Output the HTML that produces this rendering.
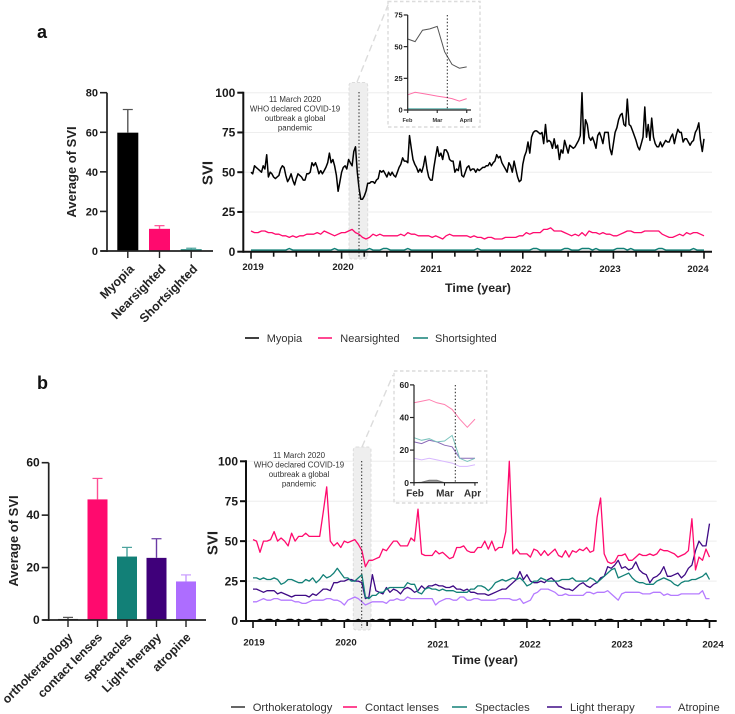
<!DOCTYPE html>
<html lang="en">
<head>
<meta charset="utf-8">
<title>SVI trends</title>
<style>
html,body{margin:0;padding:0;background:#fff;}
#figure{position:absolute;left:0;top:0;display:block;font-family:"Liberation Sans",sans-serif;filter:blur(0.35px);}
.tick{font-weight:700;font-size:12px;fill:#1a1a1a;}
.cat{font-weight:700;fill:#222;}
.year{font-weight:700;font-size:9.6px;fill:#222;text-anchor:middle;}
.title{font-weight:700;fill:#222;text-anchor:middle;}
.note{font-size:7.9px;fill:#333;text-anchor:middle;}
.leg{font-size:11px;fill:#333;}
.legb{font-size:11.2px;fill:#333;}
.inl{font-weight:700;font-size:6px;fill:#333;}
</style>
</head>
<body>
<svg id="figure" xmlns="http://www.w3.org/2000/svg" width="735" height="714" viewBox="0 0 735 714">
  <rect width="735" height="714" fill="#fff"/>
  <text x="37" y="38" font-size="18" font-weight="700" fill="#111">a</text>
  <text x="37" y="389" font-size="18" font-weight="700" fill="#111">b</text>

  <g id="layerA"></g>
  <g id="layerB"></g>

  <!-- panel a labels -->
  <text class="title" font-size="13" transform="translate(76,172) rotate(-90)">Average of SVI</text>
  <text class="title" font-size="15" transform="translate(212.5,173) rotate(-90)">SVI</text>
  <text class="title" font-size="12.4" x="478" y="292">Time (year)</text>
  <text class="year" x="253" y="270">2019</text>
  <text class="year" x="343" y="270">2020</text>
  <text class="year" x="431" y="272">2021</text>
  <text class="year" x="521" y="272">2022</text>
  <text class="year" x="610" y="272">2023</text>
  <text class="year" x="698" y="272">2024</text>
  <g>
    <text class="note" x="295" y="102">11 March 2020</text>
    <text class="note" x="295" y="111.5">WHO declared COVID-19</text>
    <text class="note" x="295" y="121">outbreak a global</text>
    <text class="note" x="295" y="130.5">pandemic</text>
  </g>
  <g>
    <line x1="245" x2="259" y1="338" y2="338" stroke="#000" stroke-width="1.5"/>
    <text class="leg" x="266.7" y="342">Myopia</text>
    <line x1="318" x2="332" y1="338" y2="338" stroke="#ff0a6e" stroke-width="1.5"/>
    <text class="leg" x="340.3" y="342">Nearsighted</text>
    <line x1="413" x2="428" y1="338" y2="338" stroke="#128077" stroke-width="1.5"/>
    <text class="leg" x="435" y="342">Shortsighted</text>
  </g>

  <!-- panel b labels -->
  <text class="title" font-size="13" transform="translate(18,541) rotate(-90)">Average of SVI</text>
  <text class="title" font-size="15" transform="translate(217.5,543) rotate(-90)">SVI</text>
  <text class="title" font-size="12.4" x="485" y="664">Time (year)</text>
  <text class="year" x="254" y="645.5">2019</text>
  <text class="year" x="346" y="645.5">2020</text>
  <text class="year" x="438" y="647.5">2021</text>
  <text class="year" x="530" y="647.5">2022</text>
  <text class="year" x="622" y="647.5">2023</text>
  <text class="year" x="713" y="647.5">2024</text>
  <g>
    <text class="note" x="299" y="458">11 March 2020</text>
    <text class="note" x="299" y="467.5">WHO declared COVID-19</text>
    <text class="note" x="299" y="477">outbreak a global</text>
    <text class="note" x="299" y="486.5">pandemic</text>
  </g>
  <g>
    <line x1="231" x2="245" y1="707" y2="707" stroke="#333" stroke-width="1.5"/>
    <text class="legb" x="252.7" y="711">Orthokeratology</text>
    <line x1="343" x2="357" y1="707" y2="707" stroke="#ff0a6e" stroke-width="1.5"/>
    <text class="legb" x="365" y="711">Contact lenses</text>
    <line x1="452" x2="467" y1="707" y2="707" stroke="#128077" stroke-width="1.5"/>
    <text class="legb" x="475" y="711">Spectacles</text>
    <line x1="547" x2="562" y1="707" y2="707" stroke="#3f0a85" stroke-width="1.5"/>
    <text class="legb" x="570" y="711">Light therapy</text>
    <line x1="656" x2="671" y1="707" y2="707" stroke="#b57bff" stroke-width="1.5"/>
    <text class="legb" x="678" y="711">Atropine</text>
  </g>
</svg>

<script>
// ---------- Data: panel a ----------
const barCategoriesA = ['Myopia','Nearsighted','Shortsighted'];
const barValuesA = [59.8,11.2,0.9];
const barErrorsA = [71.5,12.8,1.4];
const barTicksA = [0,20,40,60,80];
const lineTicks = [0,25,50,75,100];

const myopia = [
50,49,54,53,52,51,50,54,52,61,47,50,49,47,46,47,48,52,54,53,48,44,46,49,45,42,
46,49,48,47,45,45,49,49,50,56,54,56,53,49,51,49,51,53,56,62,56,58,54,48,38,44,
50,53,54,52,58,56,54,63,66,50,40,33,33,35,38,43,43,44,44,43,45,46,51,50,51,49,
47,50,48,50,48,47,50,53,55,59,57,57,56,73,65,58,55,53,50,52,50,54,60,52,47,45,
45,53,60,66,60,62,58,64,64,62,58,57,57,50,52,51,57,48,47,50,53,54,51,52,52,50,
52,51,52,53,53,54,54,56,54,56,57,61,59,60,56,54,52,50,56,54,50,57,52,47,44,45,
55,60,63,69,62,72,75,76,76,75,74,75,68,80,69,70,69,65,71,65,67,58,64,62,70,66,
62,67,66,65,66,68,70,73,100,68,83,80,72,70,72,69,65,73,75,72,68,75,75,75,65,61,
68,75,78,83,86,87,80,79,96,80,79,76,73,70,66,64,68,72,91,72,80,70,84,72,68,66,
66,69,66,68,70,69,69,72,74,68,73,77,75,75,69,71,71,69,67,69,70,75,77,81,70,63,71
];
const nearsighted = [
13,12,12,13,13,12,12,11,11,10,10,9,10,9,10,10,11,11,11,12,11,13,12,11,10,11,
12,12,13,14,12,11,9,8,9,11,10,11,10,10,10,10,10,11,10,12,11,11,10,10,10,10,
9,10,9,8,10,11,10,10,10,10,10,9,10,9,9,8,9,9,8,8,8,9,9,9,9,10,
10,12,11,12,12,12,14,14,15,13,13,13,12,11,10,11,10,12,10,13,12,12,11,12,11,11,
10,10,11,12,13,13,12,12,12,13,13,13,13,13,11,10,9,9,10,11,10,12,11,12,12,11,
10
];
const shortsighted = [
1,1,1,1,1,1,1,1,1,1,1,2,1,1,1,1,1,1,1,1,1,1,1,1,2,1,
1,1,1,1,1,1,1,1,2,1,1,1,2,2,1,1,1,1,1,2,1,1,1,1,1,1,
1,1,1,1,1,1,1,1,1,1,1,1,1,2,1,1,1,1,1,1,1,1,1,1,1,1,
1,1,1,2,2,1,1,1,1,1,1,1,2,2,1,1,1,2,2,2,1,2,1,1,1,1,
1,2,2,2,1,2,1,1,1,1,1,1,1,2,2,1,1,1,1,1,1,1,1,2,1,1,
1
];
const insetMyopia = [56,54,63,64,66,46,36,33,34];
const insetNearsighted = [12,14,13,12,11,10,9,7,9];
const insetShortsighted = [1,1,1,1,1,1,1,1,1];
const insetTicksA = [0,25,50,75];

// ---------- Data: panel b ----------
const barCategoriesB = ['orthokeratology','contact lenses','spectacles','Light therapy','atropine'];
const barValuesB = [0.4,46,24.2,23.7,14.7];
const barErrorsB = [1,54,27.7,31,17.2];
const barTicksB = [0,20,40,60];

const contactLenses = [
51,50,43,50,50,51,56,50,52,50,47,55,50,53,53,55,53,53,53,53,68,84,50,47,49,46,
50,49,50,51,48,44,34,38,38,39,40,45,44,47,50,50,47,47,47,52,50,70,42,41,41,41,
44,42,43,41,39,40,46,46,47,44,43,43,46,46,50,45,50,44,46,46,56,100,42,45,42,42,
42,40,45,44,41,44,41,43,45,41,40,44,40,44,43,45,44,46,43,44,65,77,42,37,36,37,
41,41,42,38,38,40,42,41,41,42,41,42,45,44,44,43,42,40,41,42,44,64,32,40,38,45,
40
];
const spectacles = [
27,27,26,27,26,26,27,26,23,24,26,26,25,24,24,26,25,27,24,26,29,27,28,30,33,30,
27,27,25,25,27,29,15,14,16,16,18,18,20,21,21,21,21,21,24,23,23,18,17,20,21,20,
20,19,20,19,19,19,18,18,18,18,20,20,22,22,21,19,21,24,25,26,25,26,27,26,27,25,
22,23,25,25,27,26,25,25,25,25,26,26,26,27,25,25,25,25,27,26,24,26,28,30,32,33,
27,28,29,30,27,25,24,24,23,23,23,25,26,27,26,25,23,22,24,25,25,26,26,27,28,30,
26
];
const lightTherapy = [
20,20,19,18,19,19,19,17,18,17,16,15,16,16,16,16,15,17,16,18,20,20,19,24,24,25,
25,26,26,25,25,24,14,15,29,19,18,17,21,18,20,19,17,20,21,20,18,19,22,20,22,22,
23,22,22,21,21,22,20,20,19,20,18,18,17,17,17,16,17,18,19,20,20,22,24,26,31,26,
29,25,24,24,25,24,26,27,25,22,21,20,20,19,21,23,24,22,21,23,24,27,28,34,33,35,
38,33,34,32,33,37,32,30,29,24,27,28,30,34,28,28,29,30,27,29,33,35,44,50,47,47,
61
];
const atropine = [
12,12,13,14,13,13,14,14,13,13,13,13,12,12,11,11,12,13,13,13,13,14,14,13,13,12,
10,13,14,15,14,12,10,11,12,12,12,12,11,13,13,14,13,13,15,14,14,14,14,14,14,14,
10,12,13,14,14,13,13,15,15,13,13,14,14,13,13,13,13,13,14,14,14,14,13,13,14,11,
12,13,17,18,20,20,20,19,18,16,16,17,16,16,16,16,16,18,18,17,18,18,18,19,17,15,
13,17,18,18,18,18,18,17,17,17,18,18,18,16,17,16,16,16,17,17,17,17,17,17,19,14,
14
];
const orthokeratology = [
0,0,1,0,1,1,0,1,0,0,1,1,0,1,0,1,1,0,0,1,1,1,0,1,0,0,
0,1,0,0,1,0,0,0,1,0,1,1,0,1,1,1,1,0,1,0,1,0,0,0,1,0,
1,0,1,1,1,0,1,0,0,1,1,0,1,0,1,0,0,1,0,1,1,0,1,1,1,1,
1,0,1,0,0,1,0,0,0,0,1,0,1,1,1,1,0,1,0,0,0,1,0,1,1,0,
0,0,1,0,1,0,0,0,1,1,0,1,0,0,1,0,0,1,0,0,1,0,0,0,0,1,
0
];
const insetContact = [49,50,51,49,48,45,39,34,39];
const insetSpectacles = [27.6,26,27,25,25.6,29,15,13,15];
const insetLight = [25,24,26,25,23,22,15,15,15];
const insetAtropine = [15,14,15,14,13,12,10,10,11];
const insetOrtho = [0,0.3,1.5,1.5,0,0,0,0,0];
const insetTicksB = [0,20,40,60];

// ---------- Axis functions ----------
const xA = years => 251 + years * 90.6;
const yA = v => 251.7 - v * 1.59;
const xB = years => 253 + years * 91.3;
const yB = v => 621 - v * 1.597;
const barYA = v => 251 - v * (158.3 / 80);
const barYB = v => 620 - v * (157.3 / 60);
const barXA = i => 127.8 + i * 31.7;
const barXB = i => 68 + i * 29.5;
const insetXA = i => 407.7 + i * 7.38;
const insetYA = v => 110 - v * 1.267;
const insetXB = i => 414 + i * 7.62;
const insetYB = v => 482.7 - v * 1.63;

const NS = 'http://www.w3.org/2000/svg';
function make(tag, parent, props) {
  const node = document.createElementNS(NS, tag);
  for (const key in props) node.setAttribute(key, props[key]);
  parent.appendChild(node);
  return node;
}
function seriesPoints(values, xf, yf) {
  const span = values.length - 1;
  return values.map((v, i) => xf(5 * i / span).toFixed(1) + ',' + yf(v).toFixed(1)).join(' ');
}
function insetPoints(values, xf, yf) {
  return values.map((v, i) => xf(i).toFixed(1) + ',' + yf(v).toFixed(1)).join(' ');
}

function drawGridAndAxes(parent, xf, yf, axisX, axisEnd, ticksY, panel) {
  ticksY.forEach(t => {
    if (t > 0) {
      const grid = make('line', parent, {x1: axisX, x2: axisEnd, y1: yf(t), y2: yf(t), stroke: '#eeeeee', 'stroke-width': 1});
      
      
    }
  });
}
function drawAxesOnTop(parent, xf, yf, axisX, axisEnd, ticksY, panel) {
  const yAxis = make('line', parent, {x1: axisX, x2: axisX, y1: yf(100) - 1, y2: yf(0) + 1, stroke: '#111', 'stroke-width': 2});
  
  
  const xAxis = make('line', parent, {x1: axisX, x2: axisEnd, y1: yf(0), y2: yf(0), stroke: '#111', 'stroke-width': 2});
  
  
  ticksY.forEach(t => {
    const tick = make('line', parent, {x1: axisX - 6, x2: axisX, y1: yf(t), y2: yf(t), stroke: '#111', 'stroke-width': 2});
    
    
    const label = make('text', parent, {x: axisX - 8, y: yf(t) + 4.2, class: 'tick', 'text-anchor': 'end'});
    label.textContent = t;
    
    
  });
  for (let q = 0; q <= 20; q++) {
    const tick = make('line', parent, {x1: xf(q / 4), x2: xf(q / 4), y1: yf(0), y2: yf(0) + (q % 4 === 0 ? 7 : 5), stroke: '#111', 'stroke-width': 1.6});
    
    
  }
}
function drawSeries(parent, values, color, width, xf, yf) {
  const line = make('polyline', parent, {points: seriesPoints(values, xf, yf), fill: 'none', stroke: color, 'stroke-width': width, 'stroke-linejoin': 'round'});
  return line;
}
function drawShade(parent, x, y, w, h, panel) {
  const shade = make('rect', parent, {x: x, y: y, width: w, height: h, rx: 3, fill: '#eeeeee', stroke: '#dcdcdc', 'stroke-width': 1, 'stroke-dasharray': '3 2'});
  
  
}
function drawBars(parent, cats, vals, errs, colors, errColors, xf, yf, barW, capW, axisX, axisEnd, ticks, labelDx, labelY, panel, fontTick, fontCat) {
  cats.forEach((c, i) => {
    const bar = make('rect', parent, {x: xf(i) - barW / 2, y: yf(vals[i]), width: barW, height: yf(0) - yf(vals[i]), fill: colors[i]});
    
    
    const stem = make('line', parent, {x1: xf(i), x2: xf(i), y1: yf(errs[i]), y2: yf(vals[i]), stroke: errColors[i], 'stroke-width': 1.4});
    
    
    const cap = make('line', parent, {x1: xf(i) - capW / 2, x2: xf(i) + capW / 2, y1: yf(errs[i]), y2: yf(errs[i]), stroke: errColors[i], 'stroke-width': 1.2});
    
    
    const tick = make('line', parent, {x1: xf(i), x2: xf(i), y1: yf(0), y2: yf(0) + 7, stroke: '#222', 'stroke-width': 1.4});
    
    
    const lx = xf(i) + labelDx;
    const label = make('text', parent, {x: lx, y: labelY, class: 'cat', 'font-size': fontCat, 'text-anchor': 'end', transform: 'rotate(-45 ' + lx + ' ' + labelY + ')'});
    label.textContent = c;
    
    
  });
  const yAxis = make('line', parent, {x1: axisX, x2: axisX, y1: yf(ticks[ticks.length - 1]), y2: yf(0) + 1, stroke: '#222', 'stroke-width': 1.7});
  
  
  const xAxis = make('line', parent, {x1: axisX - 6, x2: axisEnd, y1: yf(0), y2: yf(0), stroke: '#222', 'stroke-width': 1.7});
  
  
  ticks.forEach(t => {
    const tick = make('line', parent, {x1: axisX - 7, x2: axisX, y1: yf(t), y2: yf(t), stroke: '#222', 'stroke-width': 1.6});
    
    
    const label = make('text', parent, {x: axisX - 9, y: yf(t) + 4, class: 'tick', style: 'font-size:' + fontTick + 'px', 'text-anchor': 'end'});
    label.textContent = t;
    
    
  });
}
function drawInsetFrame(parent, box, link) {
  const frame = make('rect', parent, {x: box[0], y: box[1], width: box[2], height: box[3], fill: 'none', stroke: '#dcdcdc', 'stroke-width': 1.4, 'stroke-dasharray': '3.5 2.5'});
  
  
  const connector = make('line', parent, {x1: link[0], y1: link[1], x2: link[2], y2: link[3], stroke: '#dcdcdc', 'stroke-width': 1.4, 'stroke-dasharray': '7 4'});
  
  
}
function drawDotted(parent, x, y1, y2) {
  const dotted = make('line', parent, {x1: x, x2: x, y1: y1, y2: y2, stroke: '#222', 'stroke-width': 1, 'stroke-dasharray': '1.4 2'});
  
  
}
function drawInsetAxes(parent, xf, yf, ticks, xLabels, xTickIdx, axisEnd, tickFont, xFont, xLabelY, labelXs) {
  const x0 = xf(0);
  const yAxis = make('line', parent, {x1: x0, x2: x0, y1: yf(ticks[ticks.length - 1]), y2: yf(0), stroke: '#222', 'stroke-width': 1.2});
  
  
  const xAxis = make('line', parent, {x1: x0, x2: axisEnd, y1: yf(0), y2: yf(0), stroke: '#222', 'stroke-width': 1.2});
  
  
  ticks.forEach(t => {
    const tick = make('line', parent, {x1: x0 - 4, x2: x0, y1: yf(t), y2: yf(t), stroke: '#222', 'stroke-width': 1.2});
    
    
    const label = make('text', parent, {x: x0 - 5, y: yf(t) + tickFont * 0.36, 'text-anchor': 'end', 'font-weight': 700, 'font-size': tickFont, fill: '#222'});
    label.textContent = t;
    
    
  });
  xLabels.forEach((m, i) => {
    const tick = make('line', parent, {x1: xf(xTickIdx[i]), x2: xf(xTickIdx[i]), y1: yf(0), y2: yf(0) + 3, stroke: '#222', 'stroke-width': 1.1});
    
    
    const label = make('text', parent, {x: labelXs[i], y: xLabelY, 'text-anchor': 'middle', 'font-weight': 700, 'font-size': xFont, fill: '#333'});
    label.textContent = m;
    
    
  });
}

// ---------- Panel a ----------
const layerA = document.getElementById('layerA');
drawBars(layerA, barCategoriesA, barValuesA, barErrorsA,
  ['#000000','#ff0a6e','#128077'], ['#555555','#ff4d94','#4aa39c'],
  barXA, barYA, 21, 10, 107, 213, barTicksA, 7, 269.7, 'bar-a', 11, 12.3);

drawGridAndAxes(layerA, xA, yA, 243.3, 712, lineTicks, 'line-a');
drawShade(layerA, 349, 82.5, 18.7, 176.5, 'line-a');

const lineShortsighted = drawSeries(layerA, shortsighted, '#128077', 1.5, xA, yA);


const lineNearsighted = drawSeries(layerA, nearsighted, '#ff0a6e', 1.3, xA, yA);


const lineMyopia = drawSeries(layerA, myopia, '#000000', 1.5, xA, yA);


drawAxesOnTop(layerA, xA, yA, 243.3, 712, lineTicks, 'line-a');
drawDotted(layerA, 359, 92, 258);

drawInsetFrame(layerA, [388, 1.5, 92, 125.5], [357, 82, 388, 5]);
const insetLineAShort = make('polyline', layerA, {points: insetPoints(insetShortsighted, insetXA, insetYA), fill: 'none', stroke: '#5fb3ad', 'stroke-width': 1});


const insetLineANear = make('polyline', layerA, {points: insetPoints(insetNearsighted, insetXA, insetYA), fill: 'none', stroke: '#ff70a8', 'stroke-width': 1});


const insetLineAMyopia = make('polyline', layerA, {points: insetPoints(insetMyopia, insetXA, insetYA), fill: 'none', stroke: '#555555', 'stroke-width': 1});


drawInsetAxes(layerA, insetXA, insetYA, insetTicksA, ['Feb','Mar','April'], [0, 4, 8], 471, 7.5, 5.6, 122, [407.5, 437.5, 466]);
drawDotted(layerA, 447.3, 15, 110);

// ---------- Panel b ----------
const layerB = document.getElementById('layerB');
drawBars(layerB, barCategoriesB, barValuesB, barErrorsB,
  ['#222222','#ff0a6e','#128077','#3f007a','#ad6dff'], ['#555555','#ff4d94','#4aa39c','#6a3aa5','#c89bff'],
  barXB, barYB, 20, 10, 48.7, 206, barTicksB, 5.5, 638, 'bar-b', 12, 12.3);

drawGridAndAxes(layerB, xB, yB, 246, 716.7, lineTicks, 'line-b');
drawShade(layerB, 353.3, 447, 17.7, 183, 'line-b');

const lineAtropine = drawSeries(layerB, atropine, '#b57bff', 1.3, xB, yB);


const lineLight = drawSeries(layerB, lightTherapy, '#3f0a85', 1.3, xB, yB);


const lineSpectacles = drawSeries(layerB, spectacles, '#128077', 1.3, xB, yB);


const lineContact = drawSeries(layerB, contactLenses, '#ff0a6e', 1.3, xB, yB);


const lineOrtho = drawSeries(layerB, orthokeratology, '#000000', 1.3, xB, yB);


drawAxesOnTop(layerB, xB, yB, 246, 716.7, lineTicks, 'line-b');
drawDotted(layerB, 361.7, 461, 628);

drawInsetFrame(layerB, [394, 371, 92.7, 132], [362, 447, 393, 375]);
const insetLineBOrtho = make('polyline', layerB, {points: insetPoints(insetOrtho, insetXB, insetYB), fill: '#999999', stroke: '#777777', 'stroke-width': 1});


const insetLineBAtropine = make('polyline', layerB, {points: insetPoints(insetAtropine, insetXB, insetYB), fill: 'none', stroke: '#d8b8ff', 'stroke-width': 1});


const insetLineBLight = make('polyline', layerB, {points: insetPoints(insetLight, insetXB, insetYB), fill: 'none', stroke: '#8a6ab8', 'stroke-width': 1});


const insetLineBSpect = make('polyline', layerB, {points: insetPoints(insetSpectacles, insetXB, insetYB), fill: 'none', stroke: '#7cc4be', 'stroke-width': 1});


const insetLineBContact = make('polyline', layerB, {points: insetPoints(insetContact, insetXB, insetYB), fill: 'none', stroke: '#ff80b0', 'stroke-width': 1});


drawInsetAxes(layerB, insetXB, insetYB, insetTicksB, ['Feb','Mar','Apr'], [0, 4, 8], 478, 8.5, 10, 496.5, [415, 445, 472.5]);
drawDotted(layerB, 455.3, 385, 482.7);
</script>
</body>
</html>
